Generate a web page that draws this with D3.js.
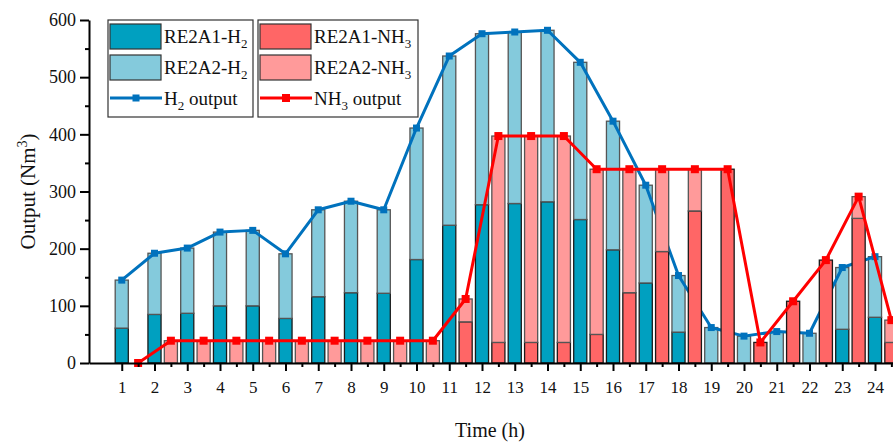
<!DOCTYPE html>
<html>
<head>
<meta charset="utf-8">
<script src="https://cdn.jsdelivr.net/npm/d3@7"></script>
<style>
body { margin: 0; background: #fff; }
text { font-family: "Liberation Serif", "DejaVu Serif", serif; fill: #111; }
</style>
</head>
<body>
<div id="chart"></div>
<script>
// hours 1..24 for H2, ammonia bars sit on the half hours
var hours = d3.range(1, 25);
var h2A1 = [61, 85, 87, 100, 100, 78, 116, 123, 122, 181, 241, 277, 279, 282, 251, 198, 140, 54, 0, 0, 0, 0, 59, 80];
var h2A2 = [84, 107, 114, 129, 132, 113, 152, 160, 146, 230, 296, 299, 300, 300, 275, 225, 171, 99, 62, 47, 55, 52, 108, 106];
var h2Output = [145, 192, 201, 229, 232, 191, 268, 283, 268, 411, 537, 576, 579, 582, 526, 423, 311, 153, 62, 47, 55, 52, 167, 186];

var nh3Hours = d3.range(1.5, 25, 1);
var nh3A1 = [0, 0, 0, 0, 0, 0, 0, 0, 0, 0, 72, 36, 36, 36, 50, 123, 195, 266, 339, 36, 108, 180, 253, 36];
var nh3A2 = [0, 39, 39, 39, 39, 39, 39, 39, 39, 39, 40, 361, 361, 361, 289, 216, 144, 73, 0, 0, 0, 0, 38, 39];
var nh3Output = [0, 39, 39, 39, 39, 39, 39, 39, 39, 39, 112, 397, 397, 397, 339, 339, 339, 339, 339, 36, 108, 180, 291, 75];

var yTicks = [0, 100, 200, 300, 400, 500, 600];

var W = 893, H = 442;
var mLeft = 89, mTop = 20, mBottom = 363;
var unit = 32.75;

var c = {
  a1h2: "#00a0c0", a2h2: "#84cadc",
  a1nh3: "#ff6666", a2nh3: "#ff9a9a",
  blue: "#0072bd", red: "#ff0000"
};

var svg = d3.select("#chart").append("svg")
  .attr("width", W).attr("height", H);

var x = d3.scaleLinear().domain([0, 25]).range([mLeft, mLeft + 25 * unit]);
var y = d3.scaleLinear().domain([0, 600]).range([mBottom, mTop]);
var bw = x(0.4) - x(0);

function stacked(xs, a1, a2) {
  return xs.map(function(v, i) { return {x: v, a1: a1[i], a2: a2[i]}; });
}
var h2Data = stacked(hours, h2A1, h2A2);
var nh3Data = stacked(nh3Hours, nh3A1, nh3A2);

function drawBars(g, data, col1, col2) {
  g.selectAll("rect.a1")
    .data(data.filter(function(d) { return d.a1 > 0; }))
    .enter().append("rect").attr("class", "a1")
    .attr("x", function(d) { return x(d.x) - bw / 2; })
    .attr("y", function(d) { return y(d.a1); })
    .attr("width", bw)
    .attr("height", function(d) { return y(0) - y(d.a1); })
    .style("fill", col1).style("stroke", "#1a1a1a").style("stroke-width", 1.3);
  g.selectAll("rect.a2")
    .data(data.filter(function(d) { return d.a2 > 0; }))
    .enter().append("rect").attr("class", "a2")
    .attr("x", function(d) { return x(d.x) - bw / 2; })
    .attr("y", function(d) { return y(d.a1 + d.a2); })
    .attr("width", bw)
    .attr("height", function(d) { return y(d.a1) - y(d.a1 + d.a2); })
    .style("fill", col2).style("stroke", "#555").style("stroke-width", 1.3);
}

function drawLine(g, xs, vals, col, ms) {
  var pts = xs.map(function(v, i) { return [v, vals[i]]; });
  g.append("path")
    .datum(pts)
    .attr("d", d3.line().x(function(d) { return x(d[0]); }).y(function(d) { return y(d[1]); }))
    .style("fill", "none").style("stroke", col).style("stroke-width", 3)
    .style("stroke-linejoin", "round");
  g.selectAll("rect.m").data(pts).enter().append("rect").attr("class", "m")
    .attr("x", function(d) { return x(d[0]) - ms / 2; })
    .attr("y", function(d) { return y(d[1]) - ms / 2; })
    .attr("width", ms).attr("height", ms)
    .style("fill", col);
}

drawBars(svg.append("g"), h2Data, c.a1h2, c.a2h2);
drawLine(svg.append("g"), hours, h2Output, c.blue, 7);
drawBars(svg.append("g"), nh3Data, c.a1nh3, c.a2nh3);
drawLine(svg.append("g"), nh3Hours, nh3Output, c.red, 8);

// axes
var xAxis = svg.append("g").attr("transform", "translate(0," + mBottom + ")")
  .call(d3.axisBottom(x).tickValues(hours).tickSize(8).tickSizeOuter(0).tickFormat(d3.format("d")));
xAxis.selectAll("text").attr("y", 30).attr("dy", 0).style("font-size", "17px");
svg.append("g").attr("transform", "translate(0," + mBottom + ")")
  .call(d3.axisBottom(x).tickValues(nh3Hours).tickSize(4).tickSizeOuter(0).tickFormat(""))
  .select(".domain").remove();

var yAxis = svg.append("g").attr("transform", "translate(" + mLeft + ",0)")
  .call(d3.axisLeft(y).tickValues(yTicks).tickSize(9).tickSizeOuter(0));
yAxis.selectAll("text").attr("x", -13).style("font-size", "18px");
svg.append("g").attr("transform", "translate(" + mLeft + ",0)")
  .call(d3.axisLeft(y).tickValues(d3.range(50, 600, 100)).tickSize(4).tickSizeOuter(0).tickFormat(""))
  .select(".domain").remove();

svg.selectAll(".domain").style("stroke", "#000").style("stroke-width", 2);
svg.selectAll(".tick line").style("stroke", "#000").style("stroke-width", 2);

// axis titles
var yt = svg.append("text")
  .attr("transform", "translate(35," + ((mTop + mBottom) / 2) + ") rotate(-90)")
  .attr("text-anchor", "middle").style("font-size", "21px");
yt.append("tspan").text("Output (Nm");
yt.append("tspan").attr("dy", -8).style("font-size", "14px").text("3");
yt.append("tspan").attr("dy", 8).text(")");

svg.append("text")
  .attr("x", 490).attr("y", 437)
  .attr("text-anchor", "middle").style("font-size", "20px")
  .text("Time (h)");

// legend
function legendBox(x0, w, items) {
  var g = svg.append("g");
  g.append("rect").attr("x", x0).attr("y", 20).attr("width", w).attr("height", 97)
    .style("fill", "#fff").style("stroke", "#333").style("stroke-width", 1.2);
  items.forEach(function(it, i) {
    var cy = 36 + i * 31;
    if (it.type === "bar") {
      g.append("rect").attr("x", x0 + 2).attr("y", cy - 12).attr("width", 51).attr("height", 25)
        .style("fill", it.color).style("stroke", "#333").style("stroke-width", 1.2);
    } else {
      g.append("line").attr("x1", x0 + 2).attr("x2", x0 + 54).attr("y1", cy).attr("y2", cy)
        .style("stroke", it.color).style("stroke-width", 3);
      g.append("rect").attr("x", x0 + 28 - it.ms / 2).attr("y", cy - it.ms / 2)
        .attr("width", it.ms).attr("height", it.ms).style("fill", it.color);
    }
    var t = g.append("text").attr("x", x0 + 56).attr("y", cy + 7).style("font-size", "19px");
    t.append("tspan").text(it.pre);
    t.append("tspan").attr("dy", 5).style("font-size", "13px").text(it.sub);
    t.append("tspan").attr("dy", -5).text(it.post);
  });
}
legendBox(108, 145, [
  {type: "bar", color: c.a1h2, pre: "RE2A1-H", sub: "2", post: ""},
  {type: "bar", color: c.a2h2, pre: "RE2A2-H", sub: "2", post: ""},
  {type: "line", color: c.blue, ms: 7, pre: "H", sub: "2", post: " output"}
]);
legendBox(258, 160, [
  {type: "bar", color: c.a1nh3, pre: "RE2A1-NH", sub: "3", post: ""},
  {type: "bar", color: c.a2nh3, pre: "RE2A2-NH", sub: "3", post: ""},
  {type: "line", color: c.red, ms: 8, pre: "NH", sub: "3", post: " output"}
]);
</script>
</body>
</html>
